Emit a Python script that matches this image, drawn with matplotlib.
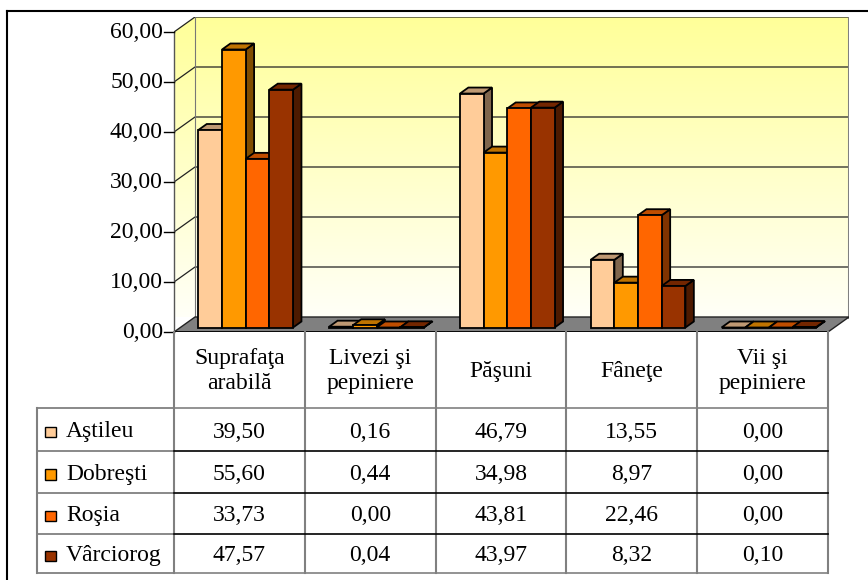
import matplotlib
matplotlib.use('Agg')
import matplotlib.pyplot as plt
import numpy as np
from matplotlib.patches import Polygon, Rectangle
from matplotlib.lines import Line2D
import matplotlib.colors as mcolors

# ---------------- data ----------------
categories = ["Suprafaţa\narabilă", "Livezi şi\npepiniere", "Păşuni", "Fâneţe", "Vii şi\npepiniere"]
series_names = ["Aştileu", "Dobreşti", "Roşia", "Vârciorog"]
astileu = [39.50, 0.16, 46.79, 13.55, 0.00]
dobresti = [55.60, 0.44, 34.98, 8.97, 0.00]
rosia = [33.73, 0.00, 43.81, 22.46, 0.00]
varciorog = [47.57, 0.04, 43.97, 8.32, 0.10]
series_values = [astileu, dobresti, rosia, varciorog]
colors = ["#FFCC99", "#FF9900", "#FF6600", "#993300"]
y_ticks = [0, 10, 20, 30, 40, 50, 60]

def fmt(v):
    return f"{v:.2f}".replace('.', ',')

plt.rcParams['font.family'] = ['Liberation Serif', 'DejaVu Serif']
FS = 17

W, H = 868, 580
fig = plt.figure(figsize=(W / 100, H / 100), dpi=100)

def fx(px):
    return px / W

def fy(py):
    return 1 - py / H

UNIT_PX = 130.8           # pixels per category slot
DX = 21 / UNIT_PX         # depth offset (x, in category units)
DY = 3.0                  # depth offset (y, in value units)
YMAX = 60

left_px, right_px = 174, 828 + 21
top_px = 332 - (YMAX + DY) * 5
ax = fig.add_axes([fx(left_px), fy(332), (right_px - left_px) / W, (332 - top_px) / H])
ax.set_xlim(0, 5 + DX)
ax.set_ylim(0, YMAX + DY)
ax.axis('off')

n_cat = len(categories)

# gradient walls
grad = np.linspace(0, 1, 256)
c_bot = np.array([1.0, 1.0, 0.97])
c_top = np.array([1.0, 1.0, 0.6])
img = (c_bot[None, :] * (1 - grad[:, None]) + c_top[None, :] * grad[:, None])[:, None, :]

back = Polygon([(DX, DY), (n_cat + DX, DY), (n_cat + DX, YMAX + DY), (DX, YMAX + DY)],
               closed=True, facecolor='none', edgecolor='none')
side = Polygon([(0, 0), (DX, DY), (DX, YMAX + DY), (0, YMAX)],
               closed=True, facecolor='none', edgecolor='none')
for poly in (back, side):
    ax.add_patch(poly)
    im = ax.imshow(img, extent=[0, n_cat + DX, DY, YMAX + DY], aspect='auto',
                   origin='lower', zorder=0)
    im.set_clip_path(poly)

# gridlines
for v in y_ticks[1:]:
    ax.plot([0, DX, n_cat + DX], [v, v + DY, v + DY], color='#222222', lw=0.9, zorder=1)
ax.plot([DX, DX], [DY, YMAX + DY], color='#777777', lw=0.8, zorder=1)
ax.plot([n_cat + DX, n_cat + DX], [DY, YMAX + DY], color='#808080', lw=2.2, zorder=1)

# floor
floor = Polygon([(0, 0), (n_cat, 0), (n_cat + DX, DY), (DX, DY)], closed=True,
                facecolor='#808080', edgecolor='#222222', lw=1.0, zorder=2)
ax.add_patch(floor)
ax.plot([0, n_cat], [0, 0], color='black', lw=1.2, zorder=2)

# front axis + ticks
ax.plot([0, 0], [0, YMAX], color='#555555', lw=1.0, zorder=2, clip_on=False)
tick_len = 10 / UNIT_PX
for v in y_ticks:
    ax.plot([-tick_len, 0], [v, v], color='black', lw=1.0, clip_on=False, zorder=2)
    ax.text(-tick_len - 1 / UNIT_PX, v, fmt(v), ha='right', va='center', fontsize=FS,
            clip_on=False)

# bars
w = 0.181
bdx, bdy = 0.4 * DX, 0.4 * DY
f0x, f0y = 0.3 * DX, 0.3 * DY

def shade(c, f):
    r, g, b = mcolors.to_rgb(c)
    return (r * f, g * f, b * f)

z = 3
for i in range(n_cat):
    for k, vals in enumerate(series_values):
        h = vals[i]
        x0 = i + 0.5 - 2 * w + k * w + f0x
        y0 = f0y
        c = colors[k]
        side_f = Polygon([(x0 + w, y0), (x0 + w + bdx, y0 + bdy),
                          (x0 + w + bdx, y0 + h + bdy), (x0 + w, y0 + h)],
                         closed=True, facecolor=shade(c, 0.5), edgecolor='black',
                         lw=1.3, zorder=z)
        top_f = Polygon([(x0, y0 + h), (x0 + w, y0 + h), (x0 + w + bdx, y0 + h + bdy),
                         (x0 + bdx, y0 + h + bdy)], closed=True,
                        facecolor=shade(c, 0.75), edgecolor='black', lw=1.3, zorder=z)
        front = Rectangle((x0, y0), w, h, facecolor=c, edgecolor='black', lw=1.3, zorder=z)
        ax.add_patch(side_f)
        ax.add_patch(top_f)
        ax.add_patch(front)
        z += 1

# ---------------- data table ----------------
tab_left, tab_right, tab_top, tab_bot = 37, 828, 332, 573
tax = fig.add_axes([fx(tab_left), fy(tab_bot), (tab_right - tab_left) / W,
                    (tab_bot - tab_top) / H])
x_leg = -(174 - tab_left) / UNIT_PX
tax.set_xlim(x_leg, n_cat)
tax.set_ylim(tab_bot - tab_top, 0)
tax.axis('off')

row_edges = [0, 76, 119, 160.5, 202, 240.5]
gray = '#808080'

for i in range(n_cat + 1):
    tax.plot([i, i], [0, row_edges[-1]], color=gray, lw=1.5, clip_on=False)
tax.plot([x_leg, x_leg], [row_edges[1], row_edges[-1]], color=gray, lw=1.5, clip_on=False)
for j, ye in enumerate(row_edges[1:], start=1):
    col = gray if j in (1, len(row_edges) - 1) else 'black'
    tax.plot([x_leg, 0], [ye, ye], color=gray, lw=1.3, clip_on=False)
    tax.plot([0, n_cat], [ye, ye], color=col, lw=1.2, clip_on=False)

for i, cat in enumerate(categories):
    tax.text(i + 0.5, row_edges[1] / 2 + 1, cat, ha='center', va='center', fontsize=FS,
             linespacing=1.3)

sq = 10.5
for k, name in enumerate(series_names):
    yc = (row_edges[k + 1] + row_edges[k + 2]) / 2 + 2.5
    tax.add_patch(Rectangle((x_leg + 8 / UNIT_PX, yc - sq / 2), sq / UNIT_PX, sq,
                            facecolor=colors[k], edgecolor='black', lw=1.0, clip_on=False))
    tax.text(x_leg + 29 / UNIT_PX, yc, name, ha='left', va='center', fontsize=FS)
    for i in range(n_cat):
        tax.text(i + 0.5, yc, fmt(series_values[k][i]), ha='center', va='center',
                 fontsize=FS)

fig.add_artist(Line2D([fx(7), fx(7)], [fy(11), 0], color='black', lw=1.5))
fig.add_artist(Line2D([fx(7), 1], [fy(11), fy(11)], color='black', lw=1.5))

fig.savefig('out.png', dpi=100)
